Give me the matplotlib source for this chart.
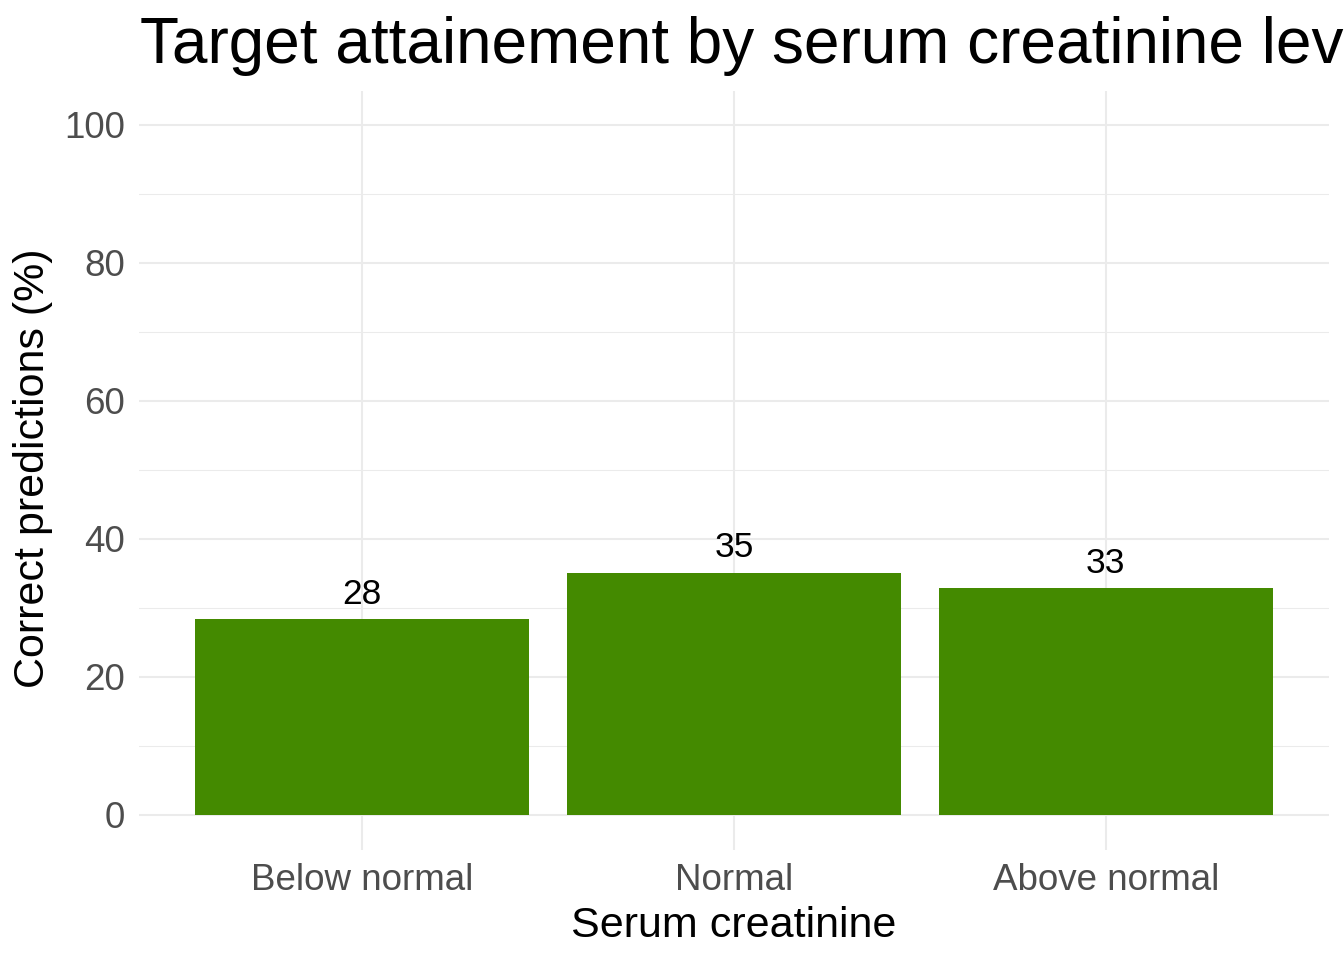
import numpy as np
import matplotlib
matplotlib.use("Agg")
import matplotlib.pyplot as plt

plt.rcParams["font.family"] = ["Liberation Sans", "DejaVu Sans"]

# --- data ---
categories = ["Below normal", "Normal", "Above normal"]
correct_pct = [28.4, 35.1, 32.9]
bar_labels = [f"{v:.0f}" for v in correct_pct]

title = "Target attainement by serum creatinine levels"
xlab = "Serum creatinine"
ylab = "Correct predictions (%)"

W, H = 1344, 960
fig = plt.figure(figsize=(W / 100, H / 100), dpi=100)
ax = fig.add_axes([139 / W, 1 - 849.5 / H, (1329 - 139) / W, (849.5 - 90.5) / H])

x = np.arange(1, len(categories) + 1)
ax.bar(x, correct_pct, width=0.9, color="#448A00", zorder=2)
for xi, v, lab in zip(x, correct_pct, bar_labels):
    ax.annotate(lab, (xi, v), xytext=(0, 6), textcoords="offset points",
                ha="center", va="bottom", fontsize=25.5, color="black", zorder=3)

ax.set_xlim(0.4, 3.6)
ax.set_ylim(-5, 105)
ax.set_xticks(x)
ax.set_xticklabels(categories)
ax.set_yticks(np.arange(0, 101, 20))
ax.set_yticks(np.arange(10, 100, 20), minor=True)

ax.grid(which="major", color="#EBEBEB", linewidth=1.5, zorder=0)
ax.grid(which="minor", axis="y", color="#EBEBEB", linewidth=0.75, zorder=0)
ax.set_axisbelow(True)
for s in ax.spines.values():
    s.set_visible(False)
ax.tick_params(which="both", length=0)
ax.tick_params(axis="y", pad=10, labelsize=26.5, labelcolor="#4D4D4D")
ax.tick_params(axis="x", pad=10, labelsize=26.5, labelcolor="#4D4D4D")

fig.text(140 / W, 1 - 63 / H, title, fontsize=46, ha="left", va="baseline")
fig.text(734 / W, 1 - 937 / H, xlab, fontsize=31, ha="center", va="baseline")
fig.text(33 / W, 1 - 468 / H, ylab, fontsize=31, rotation=90, ha="center", va="center")

fig.savefig("out.png", dpi=100)
